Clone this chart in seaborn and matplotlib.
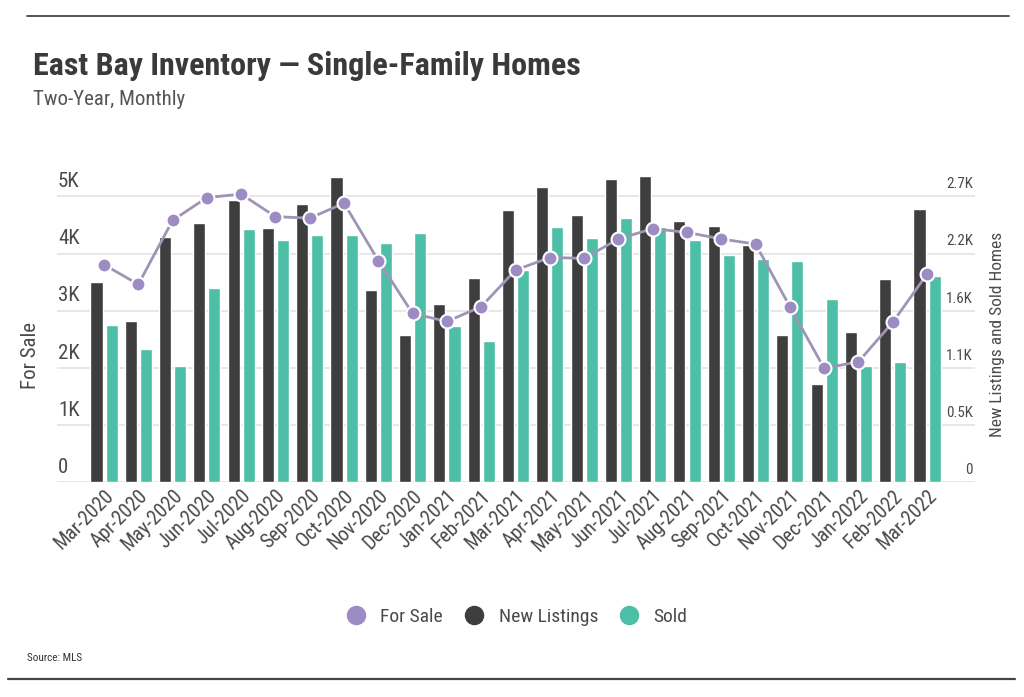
import numpy as np
import pandas as pd
import matplotlib
matplotlib.use('Agg')
import matplotlib.pyplot as plt
from matplotlib.lines import Line2D
import seaborn as sns

MONTHS = ['Mar-2020', 'Apr-2020', 'May-2020', 'Jun-2020', 'Jul-2020', 'Aug-2020',
          'Sep-2020', 'Oct-2020', 'Nov-2020', 'Dec-2020', 'Jan-2021', 'Feb-2021',
          'Mar-2021', 'Apr-2021', 'May-2021', 'Jun-2021', 'Jul-2021', 'Aug-2021',
          'Sep-2021', 'Oct-2021', 'Nov-2021', 'Dec-2021', 'Jan-2022', 'Feb-2022',
          'Mar-2022']

NEW_LISTINGS = [1890, 1520, 2320, 2450, 2670, 2400, 2630, 2880, 1815, 1390, 1680, 1930,
                2570, 2790, 2520, 2865, 2895, 2470, 2420, 2240, 1390, 930, 1420, 1920,
                2580]
SOLD = [1480, 1260, 1100, 1830, 2390, 2290, 2335, 2335, 2260, 2350, 1475, 1330,
        2000, 2410, 2310, 2500, 2410, 2290, 2150, 2105, 2090, 1730, 1100, 1130, 1950]
FOR_SALE = [3805, 3460, 4580, 4980, 5040, 4645, 4620, 4880, 3875, 2950, 2810, 3070,
            3710, 3930, 3915, 4255, 4435, 4370, 4255, 4165, 3070, 1990, 2105, 2795,
            3640]

LEFT_TICKS = [0, 1000, 2000, 3000, 4000, 5000]
LEFT_LABELS = ['0', '1K', '2K', '3K', '4K', '5K']
RIGHT_TICKS = [0, 540, 1080, 1620, 2160, 2700]
RIGHT_LABELS = ['0', '0.5K', '1.1K', '1.6K', '2.2K', '2.7K']

C_FOR_SALE = '#9d8cc3'
C_LINE = '#9f94b5'
C_NEW = '#3e3e3e'
C_SOLD = '#4dbfa6'
C_TEXT = '#4a4a4a'
C_GRID = '#e3e3e3'

sns.set_style('white')
plt.rcParams['font.family'] = ['Roboto Condensed', 'Roboto', 'DejaVu Sans']

df = pd.DataFrame({'month': MONTHS, 'New Listings': NEW_LISTINGS, 'Sold': SOLD})
long_df = df.melt(id_vars='month', var_name='series', value_name='value')

fig = plt.figure(figsize=(10.24, 6.97), dpi=100)
ax = fig.add_axes([0.0557, 0.3085, 0.8965, 0.4425])

# bars live on the bottom axes (right-hand scale), line on a twin drawn on top
sns.barplot(data=long_df, x='month', y='value', hue='series', order=MONTHS,
            palette={'New Listings': C_NEW, 'Sold': C_SOLD},
            width=0.88, gap=0.2, saturation=1, legend=False, ax=ax)
ax.set_xlim(-1.37, len(MONTHS) - 1 + 1.4)
ymax_left = 5400
ax.set_ylim(0, ymax_left * 0.54)

ax2 = ax.twinx()
sns.lineplot(x=np.arange(len(MONTHS)), y=FOR_SALE, ax=ax2, color=C_LINE, lw=2,
             marker='o', markersize=10, markerfacecolor=C_FOR_SALE,
             markeredgecolor='white', markeredgewidth=1.5)
ax2.set_ylim(0, ymax_left)

for a in (ax, ax2):
    for s in a.spines.values():
        s.set_visible(False)
    a.set_ylabel('')
    a.set_yticks([])

for t in RIGHT_TICKS:
    ax.axhline(t, color=C_GRID, lw=1.2, zorder=0)
ax.set_axisbelow(True)

for t, lab in zip(LEFT_TICKS, LEFT_LABELS):
    ax2.text(0.001, t + 90, lab, transform=ax2.get_yaxis_transform(), ha='left',
             va='bottom', fontsize=15, color=C_TEXT)
for t, lab in zip(RIGHT_TICKS, RIGHT_LABELS):
    ax.text(0.9975, t + 48, lab, transform=ax.get_yaxis_transform(), ha='right',
            va='bottom', fontsize=10.8, color=C_TEXT)

ax.set_xlabel('')
ax.tick_params(axis='x', length=0, pad=3)
ax.set_xticks(range(len(MONTHS)))
ax.set_xticklabels(MONTHS, rotation=45, ha='right', rotation_mode='anchor',
                   fontsize=14.5, color=C_TEXT)

fig.text(0.030, 0.49, 'For Sale', rotation=90, ha='center', va='center',
         fontsize=15, color=C_TEXT)
fig.text(0.974, 0.52, 'New Listings and Sold Homes', rotation=90, ha='center',
         va='center', fontsize=12.5, color=C_TEXT)

fig.text(0.032, 0.893, 'East Bay Inventory \u2014 Single-Family Homes',
         fontsize=23, fontweight='bold', color='#3a3a3a', va='baseline')
fig.text(0.032, 0.850, 'Two-Year, Monthly', fontsize=15, color='#555555',
         va='baseline')
fig.text(0.026, 0.052, 'Source: MLS', fontsize=8, color='#333333', va='baseline')

fig.add_artist(Line2D([0.026, 0.985], [0.977, 0.977], color='#444444', lw=1.3))
fig.add_artist(Line2D([0.008, 0.991], [0.026, 0.026], color='#444444', lw=1.6))

handles = [Line2D([], [], ls='', marker='o', markersize=13, color=c)
           for c in (C_FOR_SALE, C_NEW, C_SOLD)]
fig.legend(handles, ['For Sale', 'New Listings', 'Sold'], loc='center',
           bbox_to_anchor=(0.5, 0.115), ncol=3, frameon=False, fontsize=14,
           handletextpad=0.25, columnspacing=0.6, labelcolor=C_TEXT)

fig.savefig('out.png', dpi=100)
